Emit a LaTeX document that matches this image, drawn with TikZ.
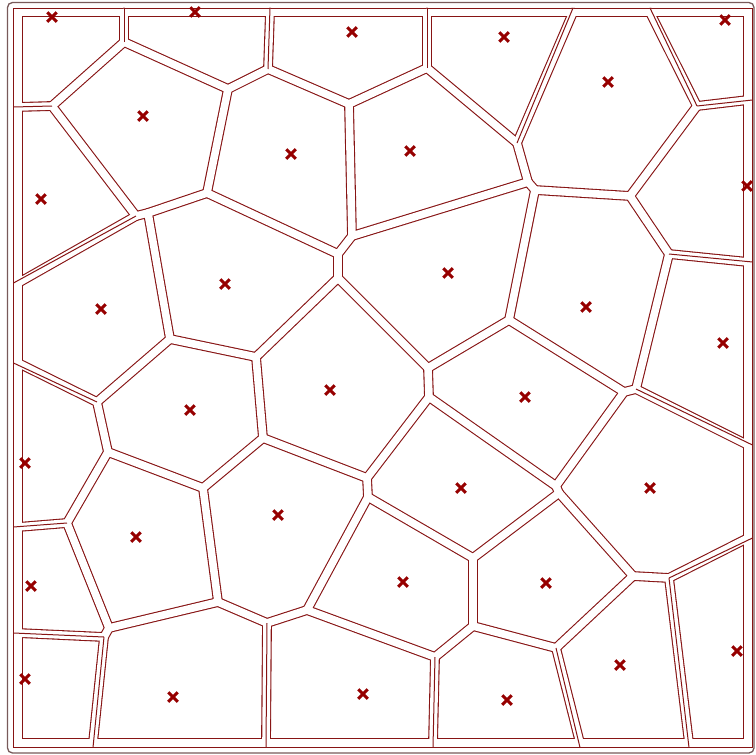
\documentclass[tikz,border=0pt]{standalone}
\usetikzlibrary{shapes.misc}
\definecolor{vred}{RGB}{135,20,20}
\definecolor{xred}{RGB}{150,0,0}
\definecolor{framec}{RGB}{120,90,90}
\begin{document}
\begin{tikzpicture}[x=1pt,y=-1pt,
  edgeout/.style={draw=vred,line width=9.8pt,line cap=round,line join=round},
  edgein/.style={draw=white,line width=7.6pt,line cap=round,line join=round},
  midline/.style={draw=vred,line width=1pt},
  site/.style={cross out,draw=xred,line width=3pt,minimum size=6.5pt,inner sep=0pt}]
\useasboundingbox (0,0) rectangle (756,755);
\fill[white] (0,0) rectangle (756,755);
% Voronoi vertices
\coordinate (A) at (124,42);
\coordinate (B) at (52,106);
\coordinate (C1) at (136,216);
\coordinate (C2) at (148,213);
\coordinate (D) at (207,193);
\coordinate (E) at (228,89);
\coordinate (G) at (268,69);
\coordinate (H) at (349,104);
\coordinate (I) at (427,68);
\coordinate (J) at (352,236);
\coordinate (F) at (338,254);
\coordinate (K) at (338,278);
\coordinate (L) at (256,357);
\coordinate (M) at (170,339);
\coordinate (N) at (97,402);
\coordinate (O) at (108,452);
\coordinate (P) at (67,523);
\coordinate (Q) at (203,488);
\coordinate (R) at (263,438);
\coordinate (S) at (367,478);
\coordinate (S2) at (368,497);
\coordinate (T) at (307,610);
\coordinate (T2) at (267,623);
\coordinate (AI) at (218,602);
\coordinate (AJ1) at (109,628);
\coordinate (AJ2) at (104,637);
\coordinate (AH1) at (435,657);
\coordinate (AH2) at (473,626);
\coordinate (AK) at (473,558);
\coordinate (W1) at (556,486);
\coordinate (W2) at (559,493);
\coordinate (AE) at (633,576);
\coordinate (AF) at (669,578);
\coordinate (AG) at (556,648);
\coordinate (U1) at (428,368);
\coordinate (U2) at (429,397);
\coordinate (V) at (509,320);
\coordinate (AC1) at (624,392);
\coordinate (AC2) at (636,389);
\coordinate (AB) at (669,254);
\coordinate (Z) at (630,196);
\coordinate (AA) at (697,106);
\coordinate (Y) at (517,143);
\coordinate (X1) at (528,182);
\coordinate (X2) at (535,190);
% boundary points (centre of the frame band)
\coordinate (t12) at (124,12.5);
\coordinate (t23) at (270,12.5);
\coordinate (t34) at (427,12.5);
\coordinate (t46) at (573,12.5);
\coordinate (t56) at (650,12.5);
\coordinate (l110) at (18,107);
\coordinate (l1014) at (18,283);
\coordinate (l1420) at (18,363);
\coordinate (l2025) at (18,527);
\coordinate (l2528) at (18,633);
\coordinate (b2831) at (93,743);
\coordinate (b3132) at (266,743);
\coordinate (b3233) at (433,743);
\coordinate (b2933) at (580,743);
\coordinate (b2930) at (689,743);
\coordinate (r511) at (748,100);
\coordinate (r1116) at (748,262);
\coordinate (r1622) at (748,445);
\coordinate (r2230) at (748,538);
% boundary points on the frame line
\coordinate (t12f) at (124,8);
\coordinate (t23f) at (270,8);
\coordinate (t34f) at (427,8);
\coordinate (t46f) at (573,8);
\coordinate (t56f) at (650,8);
\coordinate (l110f) at (13.5,107);
\coordinate (l1014f) at (13.5,283);
\coordinate (l1420f) at (13.5,363);
\coordinate (l2025f) at (13.5,527);
\coordinate (l2528f) at (13.5,633);
\coordinate (b2831f) at (93,747.5);
\coordinate (b3132f) at (266,747.5);
\coordinate (b3233f) at (433,747.5);
\coordinate (b2933f) at (580,747.5);
\coordinate (b2930f) at (689,747.5);
\coordinate (r511f) at (752.5,100);
\coordinate (r1116f) at (752.5,262);
\coordinate (r1622f) at (752.5,445);
\coordinate (r2230f) at (752.5,538);
\coordinate (dom1) at (18,12.5);
\coordinate (dom2) at (748,743);
\def\inedges{A/E,A/B,E/G,E/D,G/H,H/I,H/J,I/Y,Y/X1,X1/X2,X1/J,X2/Z,X2/V,Z/AA,Z/AB,AB/AC2,AC2/AC1,AC1/V,AC1/W1,V/U1,U1/U2,U1/K,K/F,F/J,F/D,D/C2,C2/C1,C1/B,C2/M,M/L,L/K,L/R,M/N,N/O,O/P,O/Q,Q/R,Q/AI,R/S,S/U2,S/S2,U2/W1,W1/W2,W2/AE,W2/AK,AK/S2,AK/AH2,AH2/AH1,AH2/AG,AG/AE,AE/AF,S2/T,T/T2,T/AH1,T2/AI,AI/AJ1,AJ1/AJ2,AJ1/P}
\def\bdedges{A/t12,G/t23,I/t34,Y/t46,AA/t56,AA/r511,AB/r1116,AC2/r1622,AF/r2230,AF/b2930,AG/b2933,AH1/b3233,T2/b3132,AJ2/b2831,AJ2/l2528,P/l2025,N/l1420,C1/l1014,B/l110}
% red pass
\draw[edgeout,line join=miter] (dom1) rectangle (dom2);
\foreach \a/\b in \inedges {\draw[edgeout] (\a) -- (\b);}
\foreach \a/\b in \bdedges {\draw[edgeout] (\a) -- (\b);}
% white pass
\draw[edgein,line join=miter] (dom1) rectangle (dom2);
\foreach \a/\b in \inedges {\draw[edgein] (\a) -- (\b);}
\foreach \a/\b in \bdedges {\draw[edgein] (\a) -- (\b);}
% middle lines of edges that reach the frame
\foreach \a/\b in \bdedges {\draw[midline] (\a) -- (\b f);}
% outer frame
\draw[framec,line width=1.3pt,rounded corners=5pt] (7.5,2.5) rectangle (754,753);
% sites
\node[site] (s1) at (52,17) {};
\node[site] (s2) at (195,12) {};
\node[site] (s3) at (352,32) {};
\node[site] (s4) at (504,37) {};
\node[site] (s5) at (725,20) {};
\node[site] (s6) at (608,82) {};
\node[site] (s7) at (143,116) {};
\node[site] (s8) at (291,154) {};
\node[site] (s9) at (410,151) {};
\node[site] (s10) at (41,199) {};
\node[site] (s11) at (747,186) {};
\node[site] (s12) at (225,284) {};
\node[site] (s13) at (448,273) {};
\node[site] (s14) at (101,309) {};
\node[site] (s15) at (586,307) {};
\node[site] (s16) at (723,343) {};
\node[site] (s17) at (330,390) {};
\node[site] (s18) at (190,410) {};
\node[site] (s19) at (525,397) {};
\node[site] (s20) at (25,463) {};
\node[site] (s21) at (461,488) {};
\node[site] (s22) at (650,488) {};
\node[site] (s23) at (278,515) {};
\node[site] (s24) at (136,537) {};
\node[site] (s25) at (31,586) {};
\node[site] (s26) at (403,582) {};
\node[site] (s27) at (546,583) {};
\node[site] (s28) at (25,679) {};
\node[site] (s29) at (620,665) {};
\node[site] (s30) at (737,651) {};
\node[site] (s31) at (173,697) {};
\node[site] (s32) at (363,694) {};
\node[site] (s33) at (507,700) {};
\end{tikzpicture}
\end{document}
